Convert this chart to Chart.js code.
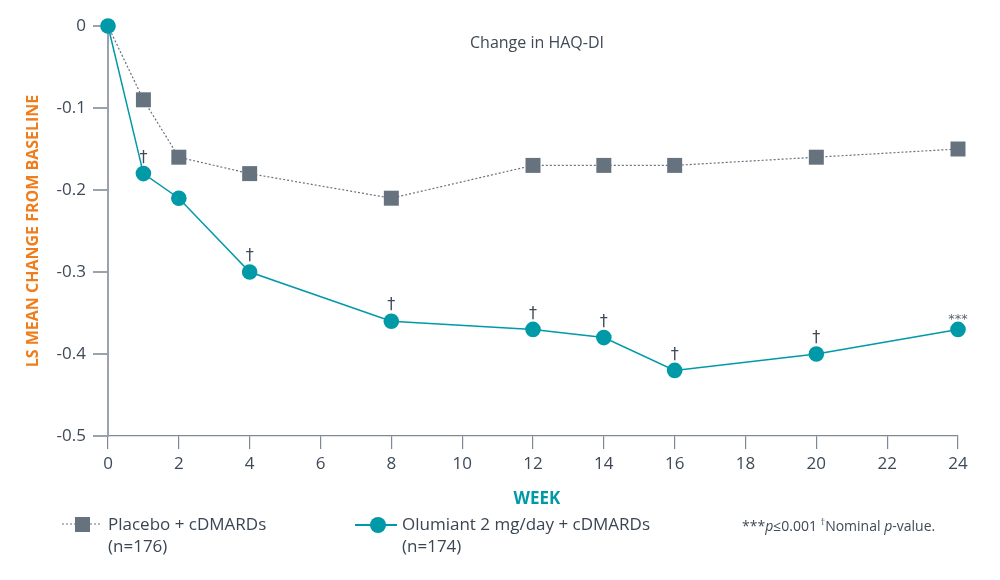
<!DOCTYPE html>
<html><head><meta charset="utf-8">
<script src="https://cdn.jsdelivr.net/npm/chart.js@4"></script>
<style>
html,body{margin:0;padding:0;background:#fff;}
#wrap{position:relative;width:1000px;height:580px;font-family:"Open Sans",sans-serif;color:#3e4a57;}
canvas{position:absolute;left:0;top:0;}
.lg{position:absolute;font-size:17px;line-height:22px;color:#3a4654;}
.fn{position:absolute;font-size:14px;color:#3e4a57;}
</style></head><body>
<div id="wrap">
<canvas id="c" width="1000" height="580"></canvas>
<div class="lg" style="left:108px;top:513px;">Placebo + cDMARDs<br>(n=176)</div>
<div class="lg" style="left:402px;top:513px;">Olumiant 2 mg/day + cDMARDs<br>(n=174)</div>
<div class="fn" style="left:742px;top:515px;">***<i>p</i>≤0.001 <sup style="font-size:9px">†</sup>Nominal <i>p</i>-value.</div>
</div>
<script>
const weeks=[0,1,2,4,8,12,14,16,20,24];
const placebo=[0,-0.09,-0.16,-0.18,-0.21,-0.17,-0.17,-0.17,-0.16,-0.15];
const olumiant=[0,-0.18,-0.21,-0.30,-0.36,-0.37,-0.38,-0.42,-0.40,-0.37];
const olumiantMarks=["","†","","†","†","†","†","†","†","***"];
const xTicks=[0,2,4,6,8,10,12,14,16,18,20,22,24];
const yTicks=[0,-0.1,-0.2,-0.3,-0.4,-0.5];

const axisCol="#9aa3ad";
const textCol="#3e4a57";
const teal="#0099a8";
const slate="#66737f";

const overlay={
 id:'overlay',
 afterDatasetsDraw(chart){
  const ctx=chart.ctx, xs=chart.scales.x, ys=chart.scales.y;
  ctx.save();
  ctx.textAlign='center';
  ctx.textBaseline='bottom';
  weeks.forEach((w,i)=>{
    const m=olumiantMarks[i]; if(!m) return;
    const px=xs.getPixelForValue(w), py=ys.getPixelForValue(olumiant[i]);
    if(m==='†'){ctx.fillStyle=textCol;ctx.font='16px "DejaVu Sans"';ctx.fillText(m,px,py-8);}
    else {ctx.font='13px "DejaVu Sans"';ctx.fillStyle='#5a6672';ctx.fillText(m,px,py-3);}
  });
  ctx.textBaseline='alphabetic';
  ctx.fillStyle=textCol;
  ctx.font='16px "Open Sans"';
  ctx.fillText('Change in HAQ-DI',537,48);
  ctx.fillStyle=teal;
  ctx.font='bold 17px "Open Sans"';
  ctx.fillText('WEEK',537,504);
  ctx.save();
  ctx.translate(38,231);
  ctx.rotate(-Math.PI/2);
  ctx.fillStyle='#f07d1a';
  ctx.font='bold 16px "Open Sans"';
  ctx.fillText('LS MEAN CHANGE FROM BASELINE',0,0);
  ctx.restore();
  // legend markers
  ctx.strokeStyle=slate;ctx.lineWidth=1;ctx.setLineDash([2,2]);
  ctx.beginPath();ctx.moveTo(62,524);ctx.lineTo(102,524);ctx.stroke();
  ctx.setLineDash([]);
  ctx.fillStyle=slate;ctx.fillRect(75,517,15,15);
  ctx.strokeStyle=teal;ctx.lineWidth=2;
  ctx.beginPath();ctx.moveTo(355,525);ctx.lineTo(397,525);ctx.stroke();
  ctx.fillStyle=teal;ctx.beginPath();ctx.arc(378,525,8,0,Math.PI*2);ctx.fill();
  ctx.restore();
 }
};

new Chart(document.getElementById('c'),{
 type:'line',
 data:{datasets:[
  {label:'Olumiant 2 mg/day + cDMARDs (n=174)',data:weeks.map((w,i)=>({x:w,y:olumiant[i]})),
   borderColor:teal,borderWidth:1.5,pointStyle:'circle',pointRadius:7.8,
   pointBackgroundColor:teal,pointBorderColor:teal,pointBorderWidth:0,tension:0,clip:false},
  {label:'Placebo + cDMARDs (n=176)',data:weeks.map((w,i)=>({x:w,y:placebo[i]})),
   borderColor:slate,borderWidth:1.2,borderDash:[2,2],pointStyle:'rect',
   pointRadius:c=>c.dataIndex===0?0:10.6,
   pointBackgroundColor:slate,pointBorderColor:slate,pointBorderWidth:0,tension:0,clip:false}
 ]},
 options:{
  responsive:false,animation:false,
  layout:{padding:{left:0,right:42,top:26,bottom:0}},
  plugins:{legend:{display:false},tooltip:{enabled:false}},
  scales:{
   x:{type:'linear',min:0,max:24,
     afterBuildTicks(s){s.ticks=xTicks.map(v=>({value:v}));},
     afterFit(s){s.height=144;},
     grid:{drawOnChartArea:false,drawTicks:true,tickLength:13,color:'#7f8994',lineWidth:1.2},
     border:{display:true,color:'#7f8994',width:1.2},
     ticks:{color:textCol,font:{family:'Open Sans',size:17},padding:5,maxRotation:0}},
   y:{type:'linear',min:-0.5,max:0,
     afterBuildTicks(s){s.ticks=yTicks.map(v=>({value:v}));},
     afterFit(s){s.width=108;},
     grid:{drawOnChartArea:false,drawTicks:true,tickLength:15,color:axisCol,lineWidth:2},
     border:{display:true,color:axisCol,width:2},
     ticks:{color:textCol,font:{family:'Open Sans',size:17},padding:7,
       callback:v=>v===0?'0':String(Math.round(v*10)/10)}}
  }
 },
 plugins:[overlay]
});
</script>
</body></html>
